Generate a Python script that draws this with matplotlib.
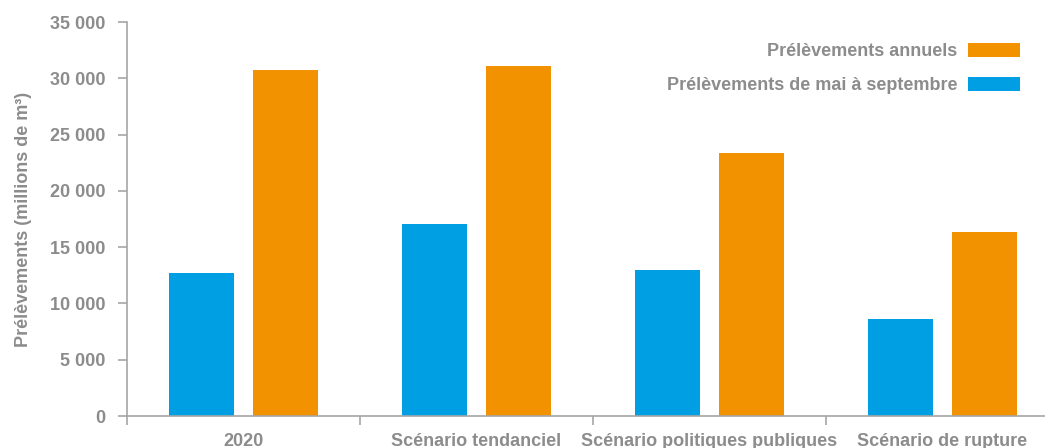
import numpy as np
import matplotlib.pyplot as plt
from matplotlib.ticker import FuncFormatter, FixedLocator

categories = ["2020", "Scénario tendanciel", "Scénario politiques publiques", "Scénario de rupture"]
mai_sept = [12700, 17050, 12950, 8600]
annuels = [30750, 31100, 23350, 16350]

grey = "#8c8c8c"
axis_grey = "#a6a6a6"
blue = "#009fe3"
orange = "#f39200"

plt.rcParams['font.family'] = ['Liberation Sans', 'DejaVu Sans']
plt.rcParams['font.weight'] = 'bold'

fig = plt.figure(figsize=(10.45, 4.48), dpi=100)
W, H = 1045, 448
ax = fig.add_axes([127 / W, 1 - 416 / H, (1059 - 127) / W, (416 - 22) / H])

x = np.arange(len(categories))
w = 0.28
off = 0.18
ax.bar(x - off, mai_sept, w, color=blue, label="Prélèvements de mai à septembre")
ax.bar(x + off, annuels, w, color=orange, label="Prélèvements annuels")

ax.set_xlim(-0.5, len(categories) - 0.5)
ax.set_ylim(0, 35000)
ax.set_yticks(np.arange(0, 35001, 5000))
ax.yaxis.set_major_formatter(FuncFormatter(lambda v, p: f"{int(v):,}".replace(",", " ")))

ax.set_xticks(x)
ax.set_xticklabels(categories)
ax.xaxis.set_minor_locator(FixedLocator(np.arange(-0.5, len(categories), 1.0)))
ax.tick_params(axis='x', which='major', length=0, pad=12, labelsize=13, labelcolor=grey)
ax.tick_params(axis='x', which='minor', length=6.5, width=1.2, color=axis_grey, direction='out')
ax.tick_params(axis='y', length=6.5, width=1.2, color=axis_grey, labelsize=13, labelcolor=grey, pad=9)

for s in ['top', 'right']:
    ax.spines[s].set_visible(False)
for s in ['left', 'bottom']:
    ax.spines[s].set_color(axis_grey)
    ax.spines[s].set_linewidth(1.2)

ax.set_ylabel("Prélèvements (millions de m³)", color=grey, fontsize=13, fontweight='bold', labelpad=13)

h, l = ax.get_legend_handles_labels()
leg = fig.legend(h[::-1], l[::-1], loc='upper right', bbox_to_anchor=(1020 / W, 1 - 43 / H),
                 markerfirst=False, frameon=False, fontsize=13, handlelength=2.9,
                 handleheight=0.78, labelspacing=0.95, handletextpad=0.55, borderaxespad=0,
                 borderpad=0)
for t in leg.get_texts():
    t.set_color(grey)

fig.savefig("out.png", dpi=100)
